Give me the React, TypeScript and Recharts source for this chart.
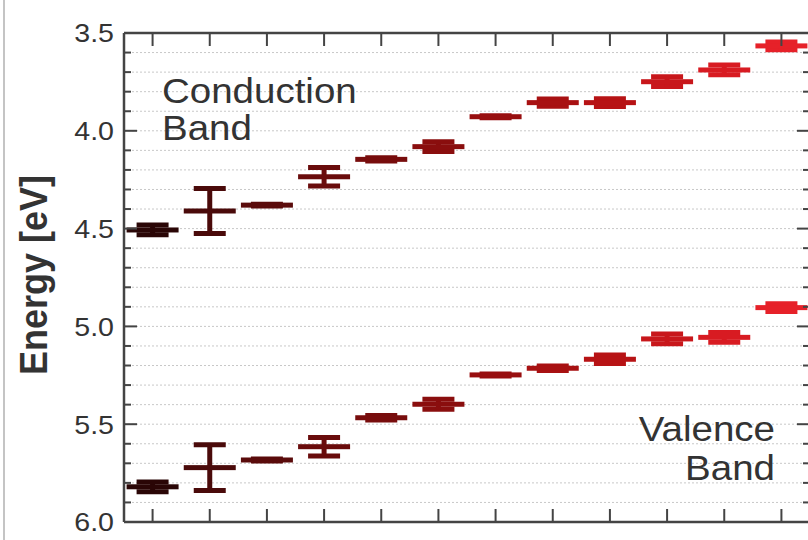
import React from 'react';
import { ComposedChart, Scatter, ErrorBar, XAxis, YAxis, CartesianGrid, Customized } from 'recharts';

// sample index along the x axis (no tick labels in the original)
const samples = [1, 2, 3, 4, 5, 6, 7, 8, 9, 10, 11, 12];

const conductionBand = [4.507, 4.41, 4.38, 4.235, 4.146, 4.081, 3.928, 3.856, 3.856, 3.749, 3.689, 3.566];
const conductionErr = [0.025, 0.115, 0.005, 0.047, 0.008, 0.025, 0.005, 0.018, 0.02, 0.025, 0.025, 0.02];

const valenceBand = [5.82, 5.722, 5.683, 5.615, 5.467, 5.398, 5.248, 5.214, 5.168, 5.064, 5.056, 4.904];
const valenceErr = [0.025, 0.117, 0.005, 0.047, 0.012, 0.025, 0.005, 0.012, 0.022, 0.025, 0.025, 0.02];

const sampleColors = [
  '#2a0606', '#4a0a0a', '#5a0b0b', '#690c0c', '#780d0d', '#8a0e0e',
  '#980f10', '#a81112', '#b71315', '#c8171b', '#d81b22', '#e62129',
];

const energyTicks = [
  3.5, 3.6, 3.7, 3.8, 3.9, 4.0, 4.1, 4.2, 4.3, 4.4, 4.5, 4.6, 4.7,
  4.8, 4.9, 5.0, 5.1, 5.2, 5.3, 5.4, 5.5, 5.6, 5.7, 5.8, 5.9, 6.0,
];
const majorTicks = [3.5, 4.0, 4.5, 5.0, 5.5, 6.0];

const FONT = '"Liberation Sans", Arial, Helvetica, sans-serif';
const AXIS = '#444';
const TEXT = '#333';

const isMajor = (v: number) => majorTicks.some((m) => Math.abs(m - v) < 1e-6);

const LeftTick = (props: any) => {
  const { x, y, payload } = props;
  const major = isMajor(payload.value);
  return (
    <g>
      <line x1={x} x2={x + (major ? 13 : 7)} y1={y} y2={y} stroke={AXIS} strokeWidth={2} />
      {major && (
        <text
          transform={`translate(${x - 10},${y}) scale(1.1,1)`}
          textAnchor="end"
          dy="0.36em"
          fontSize={26}
          fontFamily={FONT}
          fill={TEXT}
        >
          {payload.value.toFixed(1)}
        </text>
      )}
    </g>
  );
};

const RightTick = (props: any) => {
  const { x, y, payload } = props;
  const major = isMajor(payload.value);
  return <line x1={x} x2={x - (major ? 13 : 7)} y1={y} y2={y} stroke={AXIS} strokeWidth={2} />;
};

const TopTick = (props: any) => {
  const { x, y } = props;
  return <line x1={x} x2={x} y1={y} y2={y + 13} stroke={AXIS} strokeWidth={2} />;
};

const BottomTick = (props: any) => {
  const { x, y } = props;
  return <line x1={x} x2={x} y1={y} y2={y - 13} stroke={AXIS} strokeWidth={2} />;
};

const Annotations = () => (
  <g fontFamily={FONT} fill={TEXT}>
    <text transform="translate(47,275) scale(1.1,1) rotate(-90)" textAnchor="middle" fontSize={36} fontWeight="bold" fill="#333">
      Energy [eV]
    </text>
    <text transform="translate(162,103) scale(1.1,1)" fontSize={35}>Conduction</text>
    <text transform="translate(162,140) scale(1.1,1)" fontSize={35}>Band</text>
    <text transform="translate(775,441) scale(1.1,1)" textAnchor="end" fontSize={35}>Valence</text>
    <text transform="translate(775,480) scale(1.1,1)" textAnchor="end" fontSize={35}>Band</text>
  </g>
);

export default function App() {
  const axisLine = { stroke: AXIS, strokeWidth: 2.5 };
  return (
    <div style={{ position: 'absolute', left: 0, top: 0, width: 808, height: 540, overflow: 'hidden', background: '#fff' }}>
      <div style={{ position: 'absolute', left: 3, top: 0, width: 2, height: 540, background: '#c4c4c4' }} />
      <ComposedChart width={812} height={540} margin={{ top: 0, right: 0, bottom: 0, left: 0 }}>
        <CartesianGrid vertical={false} stroke="#c8c8c8" strokeDasharray="2 2" />
        <XAxis
          dataKey="x"
          type="number"
          domain={[0.5, 12.5]}
          ticks={samples}
          interval={0}
          height={18}
          tickSize={0}
          tickMargin={0}
          tickLine={false}
          axisLine={axisLine}
          tick={BottomTick}
          allowDataOverflow
        />
        <XAxis
          xAxisId="top"
          orientation="top"
          dataKey="x"
          type="number"
          domain={[0.5, 12.5]}
          ticks={samples}
          interval={0}
          height={33}
          tickSize={0}
          tickMargin={0}
          tickLine={false}
          axisLine={axisLine}
          tick={TopTick}
          allowDataOverflow
        />
        <YAxis
          dataKey="e"
          type="number"
          domain={[3.5, 6.0]}
          reversed
          ticks={energyTicks}
          interval={0}
          width={124}
          tickSize={0}
          tickMargin={0}
          tickLine={false}
          axisLine={axisLine}
          tick={LeftTick}
          allowDataOverflow
        />
        <YAxis
          yAxisId="right"
          orientation="right"
          dataKey="e"
          type="number"
          domain={[3.5, 6.0]}
          reversed
          ticks={energyTicks}
          interval={0}
          width={2}
          tickSize={0}
          tickMargin={0}
          tickLine={false}
          axisLine={axisLine}
          tick={RightTick}
          allowDataOverflow
        />
        {samples.map((s, i) => {
          const color = sampleColors[i];
          const data = [
            { x: s, e: conductionBand[i], err: conductionErr[i] },
            { x: s, e: valenceBand[i], err: valenceErr[i] },
          ];
          return (
            <Scatter
              key={s}
              data={data}
              dataKey="e"
              fill={color}
              isAnimationActive={false}
              shape={(p: any) => <rect x={p.cx - 26} y={p.cy - 2.5} width={52} height={5} fill={color} />}
            >
              <ErrorBar
                dataKey="err"
                direction="y"
                width={16}
                stroke={color}
                strokeWidth={5}
                isAnimationActive={false}
              />
            </Scatter>
          );
        })}
        <Customized component={Annotations} />
      </ComposedChart>
    </div>
  );
}
